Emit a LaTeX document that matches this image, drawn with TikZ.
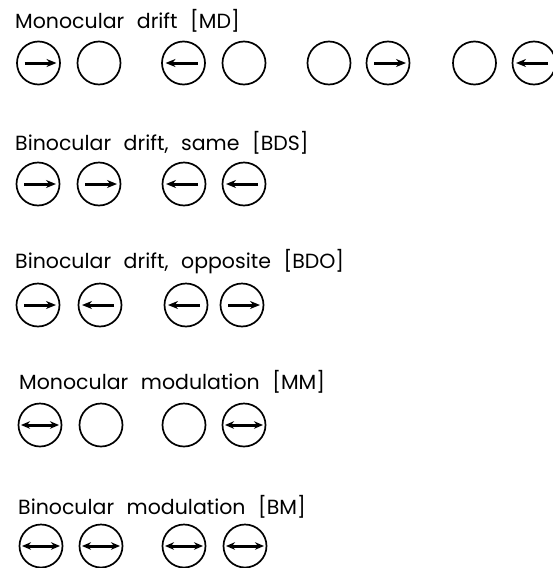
\documentclass[tikz,border=0pt]{standalone}
\usepackage{fontspec}
\setmainfont[WordSpace=2.3]{Poppins}
\usetikzlibrary{arrows.meta}
\begin{document}
\begin{tikzpicture}[x=1pt,y=-1pt,
	eye/.style={draw, shape=circle, line width=1.7pt, minimum size=43pt, inner sep=0pt},
	title/.style={anchor=base west, inner sep=0pt, font=\fontsize{20.5}{24}\selectfont},
	drift/.style={-{Stealth[length=10pt,width=8pt]}, line width=3pt},
	modul/.style={{Stealth[length=9pt,width=7.5pt]}-{Stealth[length=9pt,width=7.5pt]}, line width=3pt}]
	\useasboundingbox (0,0) rectangle (552,568);
	% monocular drift
	\path(15,28)    node[title](tMD) {Monocular drift [MD]};
	\path(38.5,63)  node[eye](MD1) {};
	\path(99,63)    node[eye](MD2) {};
	\path(183.5,63) node[eye](MD3) {};
	\path(244,63)   node[eye](MD4) {};
	\path(329,63)   node[eye](MD5) {};
	\path(388,63)   node[eye](MD6) {};
	\path(474.5,63) node[eye](MD7) {};
	\path(534,63)   node[eye](MD8) {};
	\draw[drift] ([xshift=-14pt]MD1.center) -- ([xshift=18pt]MD1.center);
	\draw[drift] ([xshift=14pt]MD3.center) -- ([xshift=-18pt]MD3.center);
	\draw[drift] ([xshift=-14pt]MD6.center) -- ([xshift=18pt]MD6.center);
	\draw[drift] ([xshift=14pt]MD8.center) -- ([xshift=-18pt]MD8.center);
	% binocular drift, same
	\path(15,150)   node[title](tBDS) {Binocular drift, same [BDS]};
	\path(38,184)   node[eye](BDS1) {};
	\path(99,184)   node[eye](BDS2) {};
	\path(184,184)  node[eye](BDS3) {};
	\path(244,184)  node[eye](BDS4) {};
	\draw[drift] ([xshift=-14pt]BDS1.center) -- ([xshift=18pt]BDS1.center);
	\draw[drift] ([xshift=-14pt]BDS2.center) -- ([xshift=18pt]BDS2.center);
	\draw[drift] ([xshift=14pt]BDS3.center) -- ([xshift=-18pt]BDS3.center);
	\draw[drift] ([xshift=14pt]BDS4.center) -- ([xshift=-18pt]BDS4.center);
	% binocular drift, opposite
	\path(15,268)   node[title](tBDO) {Binocular drift, opposite [BDO]};
	\path(38,305)   node[eye](BDO1) {};
	\path(100,305)  node[eye](BDO2) {};
	\path(186,305)  node[eye](BDO3) {};
	\path(242,305)  node[eye](BDO4) {};
	\draw[drift] ([xshift=-14pt]BDO1.center) -- ([xshift=18pt]BDO1.center);
	\draw[drift] ([xshift=14pt]BDO2.center) -- ([xshift=-18pt]BDO2.center);
	\draw[drift] ([xshift=14pt]BDO3.center) -- ([xshift=-18pt]BDO3.center);
	\draw[drift] ([xshift=-14pt]BDO4.center) -- ([xshift=18pt]BDO4.center);
	% monocular modulation
	\path(19,389)   node[title](tMM) {Monocular modulation [MM]};
	\path(40,425)   node[eye](MM1) {};
	\path(101,425)  node[eye](MM2) {};
	\path(184,425)  node[eye](MM3) {};
	\path(244,425)  node[eye](MM4) {};
	\draw[modul] ([xshift=-19pt]MM1.center) -- ([xshift=19pt]MM1.center);
	\draw[modul] ([xshift=-19pt]MM4.center) -- ([xshift=19pt]MM4.center);
	% binocular modulation
	\path(18,514)   node[title](tBM) {Binocular modulation [BM]};
	\path(41,546)   node[eye](BM1) {};
	\path(101,546)  node[eye](BM2) {};
	\path(184,546)  node[eye](BM3) {};
	\path(245,546)  node[eye](BM4) {};
	\draw[modul] ([xshift=-19pt]BM1.center) -- ([xshift=19pt]BM1.center);
	\draw[modul] ([xshift=-19pt]BM2.center) -- ([xshift=19pt]BM2.center);
	\draw[modul] ([xshift=-19pt]BM3.center) -- ([xshift=19pt]BM3.center);
	\draw[modul] ([xshift=-19pt]BM4.center) -- ([xshift=19pt]BM4.center);
\end{tikzpicture}
\end{document}
